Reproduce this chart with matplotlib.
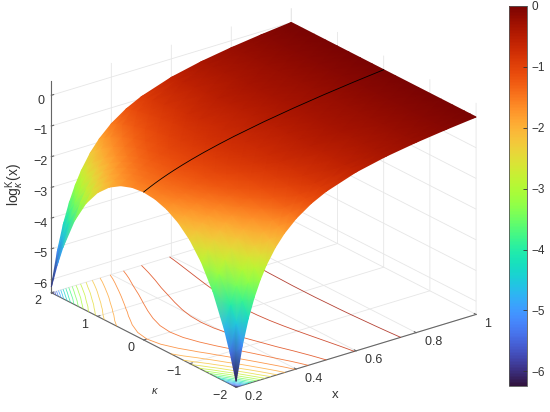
import matplotlib
matplotlib.use("Agg")
import matplotlib.pyplot as plt
import numpy as np
from mpl_toolkits.mplot3d import proj3d

plt.rcParams['font.family'] = ['Liberation Sans', 'DejaVu Sans']
plt.rcParams['mathtext.fontset'] = 'custom'
plt.rcParams['mathtext.rm'] = 'Liberation Sans'
plt.rcParams['mathtext.it'] = 'Liberation Sans:italic'

# values, the surface is the same on both sides of kappa = 0
x_vals = [0.2, 0.22, 0.24, 0.26, 0.28, 0.3, 0.33, 0.36, 0.4, 0.45, 0.5, 0.6, 0.7, 0.8, 0.9, 1.0]
kappa_side = [2, 1.875, 1.75, 1.5, 1.25, 1, 0.75, 0.5, 0.25, 0]
z_k200 = [-6.24, -5.153, -4.326, -3.681, -3.169, -2.755, -2.268, -1.897, -1.523, -1.184, -0.938, -0.604, -0.388, -0.231, -0.106, 0]
z_k188 = [-5.438, -4.545, -3.854, -3.312, -2.877, -2.521, -2.099, -1.772, -1.439, -1.132, -0.905, -0.593, -0.384, -0.230, -0.106, 0]
z_k175 = [-4.760, -4.023, -3.448, -2.991, -2.620, -2.315, -1.947, -1.660, -1.363, -1.085, -0.876, -0.582, -0.380, -0.229, -0.106, 0]
z_k150 = [-3.697, -3.196, -2.796, -2.470, -2.201, -1.974, -1.695, -1.471, -1.233, -1.004, -0.825, -0.562, -0.374, -0.227, -0.106, 0]
z_k125 = [-2.937, -2.594, -2.314, -2.080, -1.883, -1.713, -1.499, -1.323, -1.130, -0.938, -0.783, -0.546, -0.369, -0.226, -0.106, 0]
z_k100 = [-2.400, -2.163, -1.963, -1.793, -1.646, -1.517, -1.350, -1.209, -1.050, -0.886, -0.750, -0.533, -0.364, -0.225, -0.106, 0]
z_k075 = [-2.030, -1.861, -1.716, -1.588, -1.475, -1.374, -1.241, -1.125, -0.990, -0.847, -0.725, -0.523, -0.361, -0.224, -0.105, 0]
z_k050 = [-1.789, -1.663, -1.551, -1.451, -1.361, -1.278, -1.166, -1.067, -0.949, -0.820, -0.707, -0.516, -0.359, -0.224, -0.105, 0]
z_k025 = [-1.653, -1.551, -1.458, -1.373, -1.295, -1.222, -1.123, -1.033, -0.924, -0.804, -0.697, -0.512, -0.357, -0.223, -0.105, 0]
z_k000 = [-1.609, -1.514, -1.427, -1.347, -1.273, -1.204, -1.109, -1.022, -0.916, -0.799, -0.693, -0.511, -0.357, -0.223, -0.105, 0]

x_ticks = [0.2, 0.4, 0.6, 0.8, 1]
x_ticklabels = ['  0.2', '  0.4', '  0.6', '  0.8', '  1']
kappa_ticks = [-2, -1, 0, 1, 2]
kappa_ticklabels = ['\u22122  ', '\u22121  ', '0  ', '1  ', '2  ']
z_ticks = [-6, -5, -4, -3, -2, -1, 0]

rows = [z_k200, z_k188, z_k175, z_k150, z_k125, z_k100, z_k075, z_k050, z_k025, z_k000]
kappa = np.array([-k for k in kappa_side] + [k for k in kappa_side[-2::-1]])
Z = np.array(rows + rows[-2::-1])
X, K = np.meshgrid(x_vals, kappa)

zmin, zmax = -6.43, 0.46
norm = plt.Normalize(-6.24, 0)
cmap = plt.get_cmap('turbo')

fig = plt.figure(figsize=(5.5, 4.12), dpi=100)
# big square so nothing gets clipped at the axes box
ax = fig.add_axes([-143 / 550, 1 - 604.5 / 412, 792 / 550, 792 / 412], projection='3d', computed_zorder=False)
ax.patch.set_alpha(0)
ax.set_proj_type('ortho')
ax.view_init(elev=23.2, azim=-127.6)
ax.set_box_aspect((1, 1, 0.76), zoom=0.596)

ax.set_xlim(0.2, 1)
ax.set_ylim(-2, 2)
ax.set_zlim(zmin, zmax)
ax.set_xticks(x_ticks)
ax.set_xticklabels(x_ticklabels, ha='left')
ax.set_yticks(kappa_ticks)
ax.set_yticklabels(kappa_ticklabels, ha='right')
ax.set_zticks(z_ticks)
ax.tick_params(labelsize=9, labelcolor='#333333', color='#666666', width=0.6)
ax.tick_params(axis='x', pad=-4.5)
ax.tick_params(axis='y', pad=-5.5)
ax.tick_params(axis='z', pad=-0.5)

for axis in (ax.xaxis, ax.yaxis, ax.zaxis):
    axis.set_pane_color((1, 1, 1, 0))
    axis.pane.set_edgecolor('#e6e6e6')
    axis._axinfo['grid'].update(color='#e6e6e6', linewidth=0.6)
    axis._axinfo['tick'].update(inward_factor=0.0, outward_factor=0.12)
    axis.line.set_color('#666666')
    axis.line.set_linewidth(0.8)

levels = np.arange(-6.24, 0.01, 0.312)
ax.contour(X, K, Z, levels=levels, zdir='z', offset=zmin, cmap=cmap, norm=norm,
           linewidths=0.6, alpha=0.8, zorder=2)

# project the table to the screen and let gouraud shading smooth the colours, back rows first
px, py, _ = proj3d.proj_transform(X.ravel(), K.ravel(), Z.ravel(), ax.get_proj())
px = np.reshape(px, X.shape)[::-1, ::-1]
py = np.reshape(py, X.shape)[::-1, ::-1]
mesh = ax.pcolormesh(px, py, Z[::-1, ::-1], shading='gouraud', cmap=cmap, norm=norm, zorder=3)
mesh.do_3d_projection = lambda: 0  # already in screen coords, Axes3D.draw still calls this
ax.plot(x_vals, np.zeros(len(x_vals)), z_k000, color='k', lw=0.6, zorder=4)

fig.text(15 / 550, 1 - 185 / 412, r'$\mathrm{log}_{\kappa}^{\mathrm{K}}(\mathrm{x})$',
         rotation=90, ha='center', va='center', fontsize=10, color='#333333')
fig.text(155 / 550, 1 - 391 / 412, r'$\kappa$', ha='center', va='center', fontsize=8, color='#333333')
fig.text(335 / 550, 1 - 395 / 412, 'x', ha='center', va='center', fontsize=9.5, color='#333333')

cax = fig.add_axes([509 / 550, 1 - 386 / 412, 18 / 550, 380 / 412])
sm = plt.cm.ScalarMappable(norm=norm, cmap=cmap)
cbar = fig.colorbar(sm, cax=cax)
cbar.set_ticks(z_ticks)
cbar.ax.tick_params(labelsize=8.5, direction='in', length=3, width=0.6, colors='#333333', pad=3)
cbar.outline.set_edgecolor('#555555')
cbar.outline.set_linewidth(0.6)

fig.savefig('out.png', dpi=100)
